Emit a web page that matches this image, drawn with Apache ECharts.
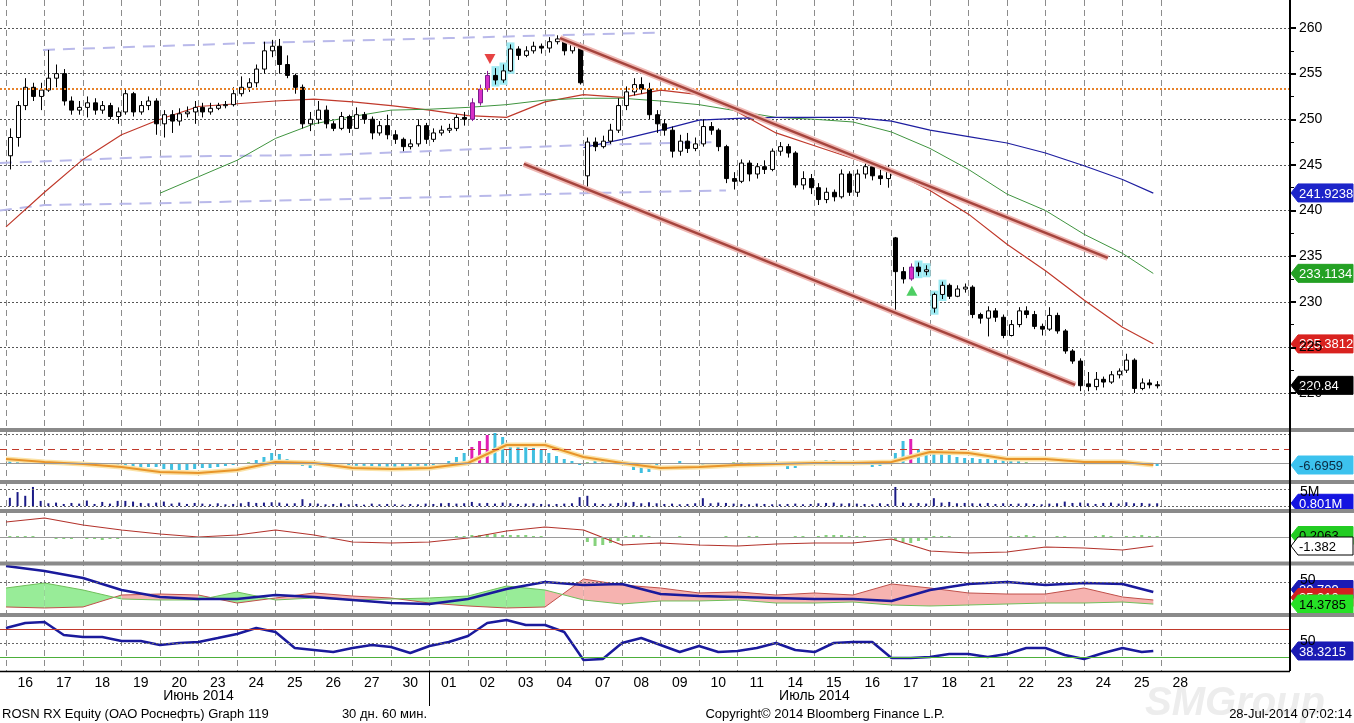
<!DOCTYPE html>
<html>
<head>
<meta charset="utf-8">
<script src="https://cdn.jsdelivr.net/npm/echarts@6/dist/echarts.min.js"></script>
<style>
  html, body { margin: 0; padding: 0; background: #fff; }
  #chart { width: 1354px; height: 723px; }
</style>
</head>
<body>
<div id="chart"></div>
<script>
// ---- data (ROSN RX, 60 min bars, 30 days) ----
const dayLabels = ['16','17','18','19','20','23','24','25','26','27','30','01','02','03','04',
  '07','08','09','10','11','14','15','16','17','18','21','22','23','24','25','28'];
const priceTicks = [220, 260];   // first and last labelled price

// [open, close, low, high], 5 bars per trading day
const bars = [
  [246,248,244.5,249],[248,251.5,247,252],[251.5,253.5,251,254.5],[253.5,252.5,252,254],[252.5,253.2,251,254],
  [253.2,254.5,253,257.6],[254.5,255,253.5,256],[255,252,251.5,255.5],[252,251,250.5,252.5],[251,251.3,250.5,252],
  [251.3,251.8,250.2,252.5],[251.8,251,250.5,252.3],[251,251.5,250.6,252],[251.5,250.3,250,251.8],[250.3,250.8,249.5,251.3],
  [250.8,252.8,250.5,253.3],[252.8,250.8,250.3,253],[250.8,251.5,250.5,252],[251.5,252,251,252.5],[252,249.5,248.3,252.3],
  [249.5,250.5,248,251],[250.5,249.8,248.5,251],[249.8,250.6,249.3,251.2],[250.6,250.8,250.2,251.4],[250.8,251.3,249.5,252],
  [251.3,250.8,250.2,251.8],[250.8,251.2,250.5,251.8],[251.2,251.5,251,251.8],[251.5,251.6,251.2,252],[251.6,252.8,251.4,253.5],
  [252.8,253.5,252.5,254.7],[253.5,254,253,254.5],[254,255.5,253.5,256],[255.5,257.5,255,258.5],[257.5,258,256.8,258.7],
  [258,256,255,258.8],[256,254.8,254.5,257],[254.8,253.5,252.8,255],[253.5,249.5,249,253.8],[249.5,250,248.7,250.8],
  [250,251,249.5,252],[251,249.5,249,251.5],[249.5,249,248.7,249.8],[249,250.3,248.8,250.8],[250.3,249,248.5,250.5],
  [249,250.5,249,251.3],[250.5,250,249.5,250.8],[250,248.5,247.8,250.3],[248.5,249.3,248.2,249.8],[249.3,248.3,247.8,250.5],
  [248.3,247.8,247.3,248.8],[247.8,247,246.5,248],[247,247.3,246.7,247.8],[247.3,249.3,247,250],[249.3,247.8,247.3,249.6],
  [247.8,248.5,247.5,249],[248.5,248.8,248.2,249.3],[248.8,249,248.5,249.5],[249,250.2,248.7,250.5],[250.2,250,249.3,250.8],
  [250,251.8,249.8,252.3],[251.8,253.3,251.5,253.8],[253.3,254.8,253,255.3],[254.8,254.3,253.8,255.6],[254.3,255.3,254,256],
  [255.3,257.7,255.2,258.2],[257.7,257,256.5,258],[257,257.5,256.8,258],[257.5,258,257.2,258.5],[258,257.8,257.2,258.3],
  [257.8,258.5,257.3,259],[258.5,258.8,258.2,259.2],[258.8,257.5,257,259],[257.5,258.2,257.2,258.6],[258.2,254,253.8,258.4],
  [243.8,247.5,242,248],[247.5,247,246.5,248],[247,247.6,246.8,248.2],[247.6,248.8,247.3,249.5],[248.8,251.5,248.5,252.3],
  [251.5,253,251,253.6],[253,253.8,252.6,254.5],[253.8,253.3,252.8,254.6],[253.3,250.5,250,254],[250.5,249.5,248.5,251],
  [249.5,248.8,248.2,250],[248.8,246.5,245.8,249.2],[246.5,247.6,246,248.3],[247.6,246.8,246.3,248.5],[246.8,247.3,246.5,248],
  [247.3,249.2,247,250],[249.2,248.8,248.3,249.7],[248.8,247,246.5,249],[247,243.5,243,247.2],[243.5,243.2,242.3,244.2],
  [243.2,245.2,243,245.6],[245.2,244,243.2,245.5],[244,244.8,243.5,245.2],[244.8,244.5,244,245.5],[244.5,246.5,244.3,246.8],
  [246.5,247,246,247.5],[247,246.3,245.8,247.3],[246.3,242.8,242.5,246.5],[242.8,243.5,242.3,244.3],[243.5,242.5,241.8,244],
  [242.5,241.2,240.6,243],[241.2,242,240.8,242.5],[242,241.5,241,242.3],[241.5,244,241.3,244.5],[244,242,241.6,244.3],
  [242,244,241.5,244.5],[244,244.8,243.5,245.5],[244.8,243.8,243.3,245.2],[243.8,243.5,242.8,244.5],[243.5,244.5,242.5,245],
  [237,233.3,229,237.1],[233.3,232.5,232,233.8],[232.5,233.8,232.3,234.2],[233.8,233.3,232.8,234.3],[233.3,233.5,232.9,234],
  [229.3,230.8,228.8,231],[230.8,231.8,230.3,232.2],[231.8,230.6,230.3,232],[230.6,231.4,230.5,231.8],[231.4,231.6,231,232],
  [231.6,228.6,228.2,231.8],[228.6,228.2,227.6,228.8],[228.2,229,226.2,229.5],[229,228.3,227.8,229.3],[228.3,226.3,226,228.6],
  [226.3,227.5,226.2,228],[227.5,229,227.2,229.4],[229,228.6,228.2,229.5],[228.6,227.3,227,229],[227.3,227,226.3,227.6],
  [227,228.5,226.8,229.4],[228.5,226.8,226.5,228.8],[226.8,224.6,224.3,227],[224.6,223.5,223.2,224.8],[223.5,220.8,220.2,223.8],
  [221,220.7,220.2,222.3],[220.7,221.5,220.3,222.3],[221.5,221.2,220.6,221.8],[221.2,222,221,222.4],[222,222.4,221.6,222.7],
  [222.5,223.6,222.2,224.3],[223.6,220.5,220,223.8],[220.5,221.1,220.3,221.6],[221.1,220.9,220.5,221.5],[220.9,220.84,220.5,221.3]
];
const magentaBars = [60, 61, 62, 117];
const cyanBars = [63, 64, 65, 118, 119, 120, 121];

// moving averages, one value per day boundary (last = final bar)
const maRed = [238.2,242.0,245.6,248.3,250.0,251.4,251.7,252.0,252.2,251.9,251.5,251.0,250.4,250.2,251.9,
  252.7,252.4,253.2,252.7,250.8,248.5,247.1,245.7,244.3,242.2,239.6,236.3,233.4,230.2,227.2,225.4];
const maGreen = [null,null,null,null,241.9,243.7,245.5,247.9,249.5,250.3,251.0,251.1,251.3,251.6,252.1,
  252.3,252.3,252.0,251.6,250.9,250.2,250.0,249.7,248.6,246.8,244.5,241.8,240.0,237.4,235.3,233.1];
const maBlue = [null,null,null,null,null,null,null,null,null,null,null,null,null,null,null,
  246.9,247.8,248.8,249.9,250.1,250.2,250.2,250.2,249.8,248.8,248.1,247.4,246.3,244.9,243.4,241.9];
const mainLast = [241.9238, 233.1134, 225.3812, 220.84];

// channel (dashed lavender) and trend lines, [day position, price]
const channelTop = [[0.96,257.6],[6,258.3],[11.5,258.9],[17,259.5]];
const channelMid = [[-0.16,245.2],[4,245.9],[8.5,246.1],[11.5,246.6],[15.1,247.2],[18.5,247.5]];
const channelLow = [[-0.16,240.0],[1,240.6],[4,240.8],[11.5,241.5],[15,241.9],[18.7,242.2]];
const trendUpper = [[14.39,258.9],[28.62,234.8]];
const trendLower = [[13.45,245.1],[27.77,220.9]];
const levelPrice = 253.3;
const sellSignal = [[12.57, 256.6]];
const buySignal = [[23.53, 231.2]];

// panel 1: histogram (per bar) and signal line (per day boundary)
const histA = [3,3,2,2,1, 0,-1,-1,-2,-2, -2,-3,-3,-4,-3, -3,-4,-5,-4,-4, -6,-7,-8,-7,-6,
  -5,-5,-4,-3,-2, -1,1,3,6,10, 9,4,-1,-3,-5, -3,-2,-1,-1,-2, -4,-5,-5,-4,-5,
  -5,-5,-4,-4,-4, -3,-1,2,6,10, 16,22,28,30,26, 20,18,17,15,13, 10,7,4,2,-2,
  1,2,2,1,-1, -3,-7,-10,-9,-6, -1,0,2,0,-1, -3,-5,-4,-2,1, 1,1,0,-1,-3,
  -3,-6,-5,-2,0, 2,3,3,2,1, -1,-2,-4,-3,-1, 10,22,24,14,10, 10,9,8,6,5,
  5,4,4,3,3, 2,2,1,0,0, -1,-1,0,1,1, 1,1,2,1,0, -2,-2,-3,-3,-3];
const signalA = [4,1,-1,-4,-9,-10,-7,1,0,-5,-6,-5,0,18,18,6,0,-5,-4,-2,-1,0,0,1,11,10,4,4,1,1,-2];

// panel 2: volume, millions
const volume = [2.4,4.1,3.0,5.6,1.5, 0.8,1.0,0.6,0.9,0.7, 1.6,0.6,1.2,0.7,1.5, 1.5,1.3,0.9,0.8,1.0,
  1.3,0.7,1.0,0.6,0.9, 0.7,0.5,0.8,0.5,0.6, 0.8,1.2,0.9,1.0,1.1, 1.0,0.7,0.8,2.0,0.8,
  0.7,0.5,0.6,0.8,0.5, 0.6,0.4,0.7,0.5,0.6, 0.5,0.4,0.6,0.5,0.7, 0.6,0.8,0.9,0.7,0.8,
  1.2,0.8,0.9,0.7,1.0, 0.8,0.6,0.7,0.8,0.6, 0.5,0.6,0.7,0.8,2.6, 3.0,0.8,0.6,0.7,0.9,
  1.0,1.2,0.8,1.1,0.8, 0.6,0.7,0.5,0.6,0.8, 2.3,0.8,1.0,0.9,0.7, 0.6,0.5,0.7,0.6,0.5,
  0.5,0.6,0.7,0.5,0.6, 0.8,0.9,1.0,0.7,0.8, 0.7,0.6,0.5,0.8,0.6, 5.6,1.0,0.8,0.9,0.7,
  2.3,1.0,1.2,0.8,0.9, 0.8,0.7,0.9,0.6,0.8, 0.6,0.7,0.8,0.6,0.5, 0.7,0.8,1.3,0.9,1.0,
  0.8,0.6,0.9,1.0,0.7, 1.1,0.8,0.9,0.7,0.8];

// panel 3: oscillator line (per day boundary) and histogram (per bar)
const oscLine = [15,19,12,7,3,0,2,7,2,-5,-6,-5,-1,6,10,7,-8,-6,-8,-9,-7,-6,-6,-2,-14,-16,-15,-10,-11,-13,-9];
const oscHist = [1,1,1,1,0, 0,-2,-2,-2,-1, -2,-2,-3,-2,-2, -1,-1,-1,-1,0, -1,0,0,0,0,
  0,0,0,0,0, 0,0,0,0,0, 0,0,0,0,0, 0,0,0,0,0, 0,0,0,0,0,
  0,0,0,0,0, 0,0,0,1,1, 2,2,3,3,2, 2,2,2,1,1, 0,0,0,0,-1,
  -5,-9,-8,-6,-4, 1,2,2,1,0, 0,0,1,0,0, 0,0,0,1,0, 0,1,1,0,0,
  0,0,1,1,0, 1,2,2,2,1, 1,1,0,0,0, -3,-5,-6,-4,-3, 1,1,1,0,0,
  0,0,0,0,0, 1,1,2,1,0, 0,1,1,0,0, 0,1,2,1,0, 1,1,2,1,1];

// panel 4: directional movement (per day boundary)
const adx = [75.8,67.7,56.5,37.1,25.8,22.6,22.6,29,25.8,21,16.1,14.5,22.6,38.7,50,45.2,46.8,30.6,27.4,25.8,
  24.2,22.6,22.6,19.4,37.1,46.8,50,45.2,48.4,46.8,33.9];
const diRed = [9.7,8.1,9.7,29,30.6,29,16.1,24.2,32.3,27.4,24.2,16.1,11.3,8.1,9.7,54.8,45.2,40.3,32.3,33.9,
  29,32.3,29,46.8,40.3,32.3,30.6,30.6,40.3,25.8,21];
const diGreen = [40.3,48.4,37.1,22.6,21,21,33.9,21,24.2,21,22.6,24.2,27.4,43.5,37.1,21,14.5,19.4,19.4,21,
  16.1,16.1,17.7,12.9,11.3,12.9,14.5,16.1,16.1,17.7,14.4];

// panel 5: RSI, two values per day
const rsi = [71.4,78.6,80,61.4,58.6,58.6,52.9,52.9,47.1,50,51.4,57.1,62.9,71.4,65.7,42.9,40,37.1,42.9,47.1,
  44.3,35.7,45.7,51.4,60,78.6,82.9,75.7,75.7,65.7,25.7,27.1,50,57.1,47.1,37.1,45.7,37.1,38.6,42.9,
  50,40,37.1,50,51.4,51.4,28.6,28.6,30,34.3,34.3,30,34.3,42.9,42.9,32.9,27.1,35.7,42.9,37.1,38.6];

// ---- layout ----
const SLOT = 38.5;          // px per trading day
const X0 = 6;               // px of first day boundary
const PLOT_W = 1290;        // price axis line position
const PER_DAY = 5;
const PX_PER_RUB = 9.125;   // price scale
const xMin = -X0 / SLOT;
const xMax = (PLOT_W - X0) / SLOT;
const FONT = '"Liberation Sans", Arial, sans-serif';

const dayX = maRed.map((_, i) => (i < 30 ? i : 29.8));
const halfX = rsi.map((_, i) => (i < 60 ? i * 0.5 : 29.8));
const barX = i => Math.floor(i / PER_DAY) + ((i % PER_DAY) + 0.5) / PER_DAY;
const pairs = (xs, ys) => ys.map((v, i) => [xs[i], v]);

const candleData = bars.map((b, i) => [barX(i), b[0], b[1], b[2], b[3],
  magentaBars.includes(i) ? 1 : (cyanBars.includes(i) ? 2 : 0)]);

function renderCandle(params, api) {
  const x = api.value(0);
  const o = api.value(1), c = api.value(2), lo = api.value(3), hi = api.value(4);
  const mark = api.value(5);
  const top = api.coord([x, Math.max(o, c)]);
  const bot = api.coord([x, Math.min(o, c)]);
  const pH = api.coord([x, hi]);
  const pL = api.coord([x, lo]);
  const w = 4;
  const cx = Math.round(top[0]) + 0.5;
  const bodyH = Math.max(1, bot[1] - top[1]);
  const up = c >= o;
  const children = [];
  if (mark === 2) {
    children.push({ type: 'rect', shape: { x: cx - w / 2 - 2, y: pH[1] - 2, width: w + 4, height: pL[1] - pH[1] + 4 },
      style: { fill: '#9eeaf2' } });
  }
  children.push({ type: 'line', shape: { x1: cx, y1: pH[1], x2: cx, y2: pL[1] },
    style: { stroke: mark === 1 ? '#8a1f96' : '#000', lineWidth: 1 } });
  let fill = up ? '#fff' : '#000';
  let stroke = '#000';
  if (mark === 1) { fill = '#d82fc8'; stroke = '#7a1d8e'; }
  children.push({ type: 'rect', shape: { x: cx - w / 2, y: top[1], width: w, height: bodyH },
    style: { fill: fill, stroke: stroke, lineWidth: 1 } });
  return { type: 'group', children: children };
}

function renderBand(params, api) {
  const x0 = api.value(0), x1 = api.value(1);
  const r0 = api.value(2), r1 = api.value(3), g0 = api.value(4), g1 = api.value(5);
  const pts = [api.coord([x0, r0]), api.coord([x1, r1]), api.coord([x1, g1]), api.coord([x0, g0])];
  return { type: 'polygon', shape: { points: pts },
    style: { fill: (r0 + r1 > g0 + g1) ? '#f6b3b0' : '#98ec98' } };
}
const diBand = diRed.slice(0, -1).map((r, i) => [dayX[i], dayX[i + 1], r, diRed[i + 1], diGreen[i], diGreen[i + 1]]);

// price panel spans y 0..428, 260 sits at y 28 and 220 at y 393
const priceMin = priceTicks[0] - (428 - 393) / PX_PER_RUB;
const priceMax = priceTicks[1] + 28 / PX_PER_RUB;

const panels = [
  { top: 0, height: 428, range: [priceMin, priceMax] },
  { top: 432, height: 48, range: [-17, 31] },
  { top: 484, height: 25, range: [-3 * 5 / 17, 22 * 5 / 17] },
  { top: 513, height: 48, range: [-24, 24] },
  { top: 565, height: 48, range: [0, 48 * 50 / 31] },
  { top: 617, height: 54, range: [10, 70 + 12 / 0.7] }
];

const grids = panels.map(p => ({ left: 0, width: PLOT_W, top: p.top, height: p.height }));
grids.push({ left: X0, width: SLOT * 30, top: 0, height: 671 });               // 6: day grid lines
grids.push({ left: X0, width: SLOT * dayLabels.length, top: 671, height: 1 });  // 7: day labels
grids.push({ left: 0, width: PLOT_W, top: 28, height: 365 });                   // 8: price scale 220..260

const xAxes = panels.map((p, i) => ({ gridIndex: i, type: 'value', min: xMin, max: xMax, show: false }));
xAxes.push({ gridIndex: 6, type: 'value', min: 0, max: 30, interval: 1,
  axisLine: { show: false }, axisTick: { show: false }, axisLabel: { show: false },
  splitLine: { show: true, lineStyle: { color: '#8c8c8c', type: [6, 4], width: 1 } } });
xAxes.push({ gridIndex: 7, type: 'category', data: dayLabels, boundaryGap: true,
  axisLine: { show: false }, axisTick: { show: false }, splitLine: { show: false },
  axisLabel: { color: '#000', fontSize: 14, fontFamily: FONT, margin: 4, interval: 0 } });
xAxes.push({ gridIndex: 8, type: 'value', min: 0, max: 1, show: false });

const yAxes = panels.map((p, i) => ({ gridIndex: i, type: 'value', position: 'right',
  min: p.range[0], max: p.range[1], show: false }));
yAxes.push({ gridIndex: 6, type: 'value', min: 0, max: 1, show: false });
yAxes.push({ gridIndex: 7, type: 'value', min: 0, max: 1, show: false });
yAxes.push({
  gridIndex: 8, type: 'value', position: 'right', min: priceTicks[0], max: priceTicks[1], interval: 5,
  axisLine: { show: false, onZero: false },
  axisTick: { show: true, length: 6, lineStyle: { color: '#000', width: 2 } },
  minorTick: { show: true, splitNumber: 2, length: 4, lineStyle: { color: '#000', width: 1 } },
  axisLabel: { color: '#000', fontSize: 14, fontFamily: FONT, margin: 9 },
  splitLine: { show: true, lineStyle: { color: '#555', type: [2, 2], width: 1 } }
});

const hLine = (y, color, type, width) => ({ yAxis: y, lineStyle: { color: color, type: type, width: width || 1 } });
const markLines = list => ({ silent: true, symbol: ['none', 'none'], label: { show: false }, data: list });
const lineSeries = (idx, data, color, width, extra) => Object.assign({
  type: 'line', xAxisIndex: idx, yAxisIndex: idx, data: data, symbol: 'none', silent: true,
  lineStyle: { color: color, width: width }, z: 3
}, extra || {});
const dashed = { color: '#b9b9ea', width: 2, type: [12, 8] };

const series = [
  // price panel
  lineSeries(0, channelTop, '', 2, { lineStyle: dashed,
    markLine: markLines([hLine(levelPrice, '#e8822a', [2, 2], 2)]) }),
  lineSeries(0, channelMid, '', 2, { lineStyle: dashed }),
  lineSeries(0, channelLow, '', 2, { lineStyle: dashed }),
  lineSeries(0, pairs(dayX, maRed), '#c0392b', 1.2),
  lineSeries(0, pairs(dayX, maGreen), '#3f943f', 1),
  lineSeries(0, pairs(dayX, maBlue), '#1e1ea0', 1.2),
  { type: 'custom', xAxisIndex: 0, yAxisIndex: 0, data: candleData, renderItem: renderCandle,
    encode: { x: 0, y: [1, 2, 3, 4] }, silent: true, z: 4 },
  lineSeries(0, trendUpper, '#efb8b4', 6, { z: 5 }),
  lineSeries(0, trendUpper, '#a5443d', 2.5, { z: 6 }),
  lineSeries(0, trendLower, '#efb8b4', 6, { z: 5 }),
  lineSeries(0, trendLower, '#a5443d', 2.5, { z: 6 }),
  { type: 'scatter', xAxisIndex: 0, yAxisIndex: 0, data: sellSignal, symbol: 'triangle', symbolRotate: 180,
    symbolSize: [11, 10], itemStyle: { color: '#e01414' }, silent: true, z: 7 },
  { type: 'scatter', xAxisIndex: 0, yAxisIndex: 0, data: buySignal, symbol: 'triangle',
    symbolSize: [11, 10], itemStyle: { color: '#22c23c' }, silent: true, z: 7 },

  // panel 1
  { type: 'bar', xAxisIndex: 1, yAxisIndex: 1, barWidth: 3, silent: true,
    data: histA.map((v, i) => ({ value: [barX(i), v], itemStyle: {
      color: magentaBars.includes(i) ? '#e01fb4' : (Math.abs(v) <= 1 ? '#8fcf86' : '#3fbfe0') } })),
    markLine: markLines([hLine(29, '#666', [2, 2]), hLine(14, '#c0392b', [7, 5]), hLine(0, '#9a9a9a', 'solid')]) },
  lineSeries(1, pairs(dayX, signalA), '#fbe3a8', 5, { z: 3 }),
  lineSeries(1, pairs(dayX, signalA), '#e8952a', 2, { z: 4 }),

  // panel 2
  { type: 'bar', xAxisIndex: 2, yAxisIndex: 2, barWidth: 2, silent: true,
    data: volume.map((v, i) => [barX(i), v]), itemStyle: { color: '#1a1a86' },
    markLine: markLines([hLine(5, '#666', [2, 2]), hLine(0, '#666', [2, 2])]) },

  // panel 3
  { type: 'bar', xAxisIndex: 3, yAxisIndex: 3, barWidth: 3, silent: true,
    data: oscHist.map((v, i) => [barX(i), v]), itemStyle: { color: '#86d27c' },
    markLine: markLines([hLine(0, '#9a9a9a', 'solid')]) },
  lineSeries(3, pairs(dayX, oscLine), '#b3332c', 1.2),

  // panel 4
  { type: 'custom', xAxisIndex: 4, yAxisIndex: 4, data: diBand, renderItem: renderBand,
    encode: { x: [0, 1], y: [2, 3, 4, 5] }, silent: true, z: 2,
    markLine: markLines([hLine(50, '#666', [2, 2])]) },
  lineSeries(4, pairs(dayX, diRed), '#c0504a', 1),
  lineSeries(4, pairs(dayX, diGreen), '#6fbf5a', 1),
  lineSeries(4, pairs(dayX, adx), '#1a1a9c', 2.5, { z: 4 }),

  // panel 5
  lineSeries(5, pairs(halfX, rsi), '#1a1a9c', 2.5, { z: 4,
    markLine: markLines([hLine(70, '#c0392b', 'solid'), hLine(50, '#666', [2, 2]), hLine(30, '#4caf3a', 'solid')]) })
];

const staticGraphic = [];
[428, 480, 509, 561.5, 613].forEach(y => staticGraphic.push({ type: 'rect', z: 100,
  shape: { x: 0, y: y, width: 1354, height: 4 }, style: { fill: '#8a8a8a' } }));
staticGraphic.push({ type: 'line', z: 101, shape: { x1: PLOT_W, y1: 0, x2: PLOT_W, y2: 671 },
  style: { stroke: '#000', lineWidth: 2 } });
staticGraphic.push({ type: 'line', z: 101, shape: { x1: 0, y1: 671.5, x2: PLOT_W, y2: 671.5 },
  style: { stroke: '#000', lineWidth: 1.5 } });
staticGraphic.push({ type: 'line', z: 101, shape: { x1: X0 + SLOT * 11, y1: 672, x2: X0 + SLOT * 11, y2: 706 },
  style: { stroke: '#000', lineWidth: 1 } });

function text(x, y, str, opts) {
  return { type: 'text', z: 110, x: x, y: y,
    style: Object.assign({ text: str, fill: '#000', font: '14px ' + FONT,
      textAlign: 'left', textVerticalAlign: 'middle', align: 'left', verticalAlign: 'middle' }, (opts || {})) };
}
staticGraphic.push(text(1145, 704, 'SMGroup', { font: 'italic bold 40px ' + FONT, fill: '#ededed' }));
staticGraphic.push(text(X0 + SLOT * 5, 696, 'Июнь 2014', { textAlign: 'center', align: 'center' }));
staticGraphic.push(text(X0 + SLOT * 21, 696, 'Июль 2014', { textAlign: 'center', align: 'center' }));
staticGraphic.push(text(2, 714, 'ROSN RX Equity (ОАО Роснефть) Graph 119', { font: '13px ' + FONT }));
staticGraphic.push(text(427, 714, '30 дн. 60 мин.', { font: '13px ' + FONT, textAlign: 'right', align: 'right' }));
staticGraphic.push(text(825, 714, 'Copyright© 2014 Bloomberg Finance L.P.', { font: '13px ' + FONT, textAlign: 'center', align: 'center' }));
staticGraphic.push(text(1352, 714, '28-Jul-2014 07:02:14', { font: '13px ' + FONT, textAlign: 'right', align: 'right' }));

const chart = echarts.init(document.getElementById('chart'));
chart.setOption({
  animation: false,
  textStyle: { fontFamily: FONT },
  grid: grids,
  xAxis: xAxes,
  yAxis: yAxes,
  series: series,
  graphic: staticGraphic
});

function tag(axis, value, str, bg, fg, border) {
  const y = chart.convertToPixel({ yAxisIndex: axis }, value);
  return { type: 'group', z: 120, children: [
    { type: 'polygon', shape: { points: [[PLOT_W + 1, y], [PLOT_W + 8, y - 9], [1353, y - 9], [1353, y + 9], [PLOT_W + 8, y + 9]] },
      style: { fill: bg, stroke: border || bg, lineWidth: 1 } },
    { type: 'text', x: PLOT_W + 9, y: y + 1,
      style: { text: str, fill: fg, font: '13px ' + FONT, textVerticalAlign: 'middle', verticalAlign: 'middle' } }
  ] };
}
function plain(axis, value, str, dy) {
  const y = chart.convertToPixel({ yAxisIndex: axis }, value);
  return text(PLOT_W + 10, y + (dy || 0), str);
}

const tags = [
  tag(0, mainLast[0], mainLast[0].toString(), '#1d25c9', '#fff'),
  tag(0, mainLast[1], mainLast[1].toString(), '#24a124', '#fff'),
  tag(0, mainLast[2], mainLast[2].toString(), '#d9221f', '#fff'),
  tag(0, mainLast[3], mainLast[3].toString(), '#000', '#fff'),
  tag(1, signalA[signalA.length - 1], '-6.6959', '#3cc2ee', '#0a2a40'),
  plain(2, 5, '5M', 3),
  tag(2, 0.801, '0.801M', '#1414e0', '#fff'),
  tag(3, 1.5, '0.2063', '#22cc22', '#000'),
  tag(3, oscLine[oscLine.length - 1], '-1.382', '#fff', '#000', '#000'),
  plain(4, 50, '50', -2),
  tag(4, adx[adx.length - 1] + 4, '30.709', '#1a1ab4', '#fff'),
  tag(4, diRed[diRed.length - 1] + 4, '25.210', '#d22020', '#fff'),
  tag(4, diGreen[diGreen.length - 1], '14.3785', '#26e026', '#000'),
  plain(5, 50, '50', -2),
  tag(5, rsi[rsi.length - 1], '38.3215', '#1a1ab4', '#fff')
];
chart.setOption({ graphic: staticGraphic.concat(tags) });
</script>
</body>
</html>
